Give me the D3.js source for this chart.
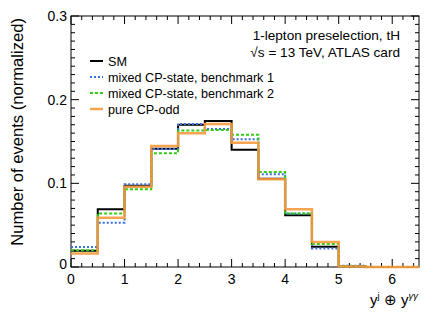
<!DOCTYPE html>
<html><head><meta charset="utf-8">
<script src="https://cdn.jsdelivr.net/npm/d3@7"></script>
<style>html,body{margin:0;padding:0;background:#fff;}svg{display:block;font-family:"Liberation Sans",Arial,sans-serif;}</style>
</head><body>
<script>
const binEdges = [0,0.5,1,1.5,2,2.5,3,3.5,4,4.5,5,5.5,6,6.5];
const smValues    = [0.0195,0.069,0.097,0.1414,0.170,0.1744,0.140,0.1055,0.062,0.0243,0.001,0,0];
const bench1Values= [0.024,0.053,0.099,0.141,0.171,0.165,0.1526,0.111,0.064,0.022,0.0015,0,0];
const bench2Values= [0.020,0.064,0.093,0.136,0.163,0.1637,0.158,0.1135,0.064,0.0275,0.001,0,0];
const cpOddValues = [0.016,0.059,0.096,0.1446,0.160,0.171,0.1485,0.105,0.069,0.030,0.0005,0,0];
const xTicks = [0,1,2,3,4,5,6];
const yTicks = [0,0.1,0.2,0.3];
const yTickLabels = ["0","0.1","0.2","0.3"];
const legendLabels = ["SM","mixed CP-state, benchmark 1","mixed CP-state, benchmark 2","pure CP-odd"];

const W=441,H=318;
const m={l:71,r:22,t:16,b:51};
const svg=d3.select("body").append("svg").attr("width",W).attr("height",H);
const x=d3.scaleLinear().domain([0,6.5]).range([m.l,W-m.r]);
const y=d3.scaleLinear().domain([0,0.3]).range([H-m.b,m.t]);

// frame
svg.append("rect").attr("x",x(0)).attr("y",y(0.3)).attr("width",x(6.5)-x(0)).attr("height",y(0)-y(0.3))
  .attr("fill","none").attr("stroke","#000").attr("stroke-width",1);

// ticks
const xMinor=d3.range(0,6.5001,0.2).filter(v=>Math.abs(v-Math.round(v))>1e-6);
const yMinor=d3.range(0,0.3001,0.01).filter(v=>Math.abs(v*10-Math.round(v*10))>1e-6);
const tg=svg.append("g").attr("stroke","#000").attr("stroke-width",1);
xTicks.forEach(v=>{tg.append("line").attr("x1",x(v)).attr("x2",x(v)).attr("y1",y(0)).attr("y2",y(0)-8);
  tg.append("line").attr("x1",x(v)).attr("x2",x(v)).attr("y1",y(0.3)).attr("y2",y(0.3)+8);});
xMinor.forEach(v=>{tg.append("line").attr("x1",x(v)).attr("x2",x(v)).attr("y1",y(0)).attr("y2",y(0)-4);
  tg.append("line").attr("x1",x(v)).attr("x2",x(v)).attr("y1",y(0.3)).attr("y2",y(0.3)+4);});
yTicks.forEach(v=>{tg.append("line").attr("x1",x(0)).attr("x2",x(0)+8).attr("y1",y(v)).attr("y2",y(v));
  tg.append("line").attr("x1",x(6.5)).attr("x2",x(6.5)-8).attr("y1",y(v)).attr("y2",y(v));});
yMinor.forEach(v=>{tg.append("line").attr("x1",x(0)).attr("x2",x(0)+4).attr("y1",y(v)).attr("y2",y(v));
  tg.append("line").attr("x1",x(6.5)).attr("x2",x(6.5)-4).attr("y1",y(v)).attr("y2",y(v));});

// tick labels
xTicks.forEach(v=>svg.append("text").attr("x",x(v)).attr("y",y(0)+17).attr("text-anchor","middle")
  .attr("font-size",14).text(v));
yTicks.forEach((v,i)=>svg.append("text").attr("x",x(0)-4).attr("y",y(v)+5-(v===0?3:0)).attr("text-anchor","end")
  .attr("font-size",14).text(yTickLabels[i]));

// axis titles
svg.append("text").attr("transform",`translate(23,${y(0.3)+2}) rotate(-90)`).attr("text-anchor","end")
  .attr("font-size",16.6).text("Number of events (normalized)");
const xt=svg.append("text").attr("x",x(6.5)-1).attr("y",H-13).attr("text-anchor","end").attr("font-size",15);
xt.append("tspan").text("y");
xt.append("tspan").attr("dy",-6).attr("font-size",9.5).text("j");
xt.append("tspan").attr("dy",6).text(" \u2295 y");
xt.append("tspan").attr("dy",-6).attr("font-size",9.5).attr("font-style","italic").text("\u03b3\u03b3");

// histograms
function stepPts(vals){const pts=[];vals.forEach((v,i)=>{pts.push([binEdges[i],v]);pts.push([binEdges[i+1],v]);});return pts;}
const line=d3.line().x(d=>x(d[0])).y(d=>y(d[1]));
const series=[
  {vals:smValues,color:"#000000",w:2,dash:null,op:1},
  {vals:bench1Values,color:"#3a6fe0",w:2,dash:"2,2",op:1},
  {vals:bench2Values,color:"#33cc11",w:2,dash:"3,2",op:1},
  {vals:cpOddValues,color:"#f79a3e",w:2.5,dash:null,op:0.9}
];
series.forEach(s=>{svg.append("path").attr("d",line(stepPts(s.vals))).attr("fill","none")
  .attr("stroke",s.color).attr("stroke-width",s.w).attr("stroke-dasharray",s.dash).attr("opacity",s.op);});

// legend
const lg=svg.append("g");
series.forEach((s,i)=>{const yy=61+i*16;
  lg.append("line").attr("x1",90).attr("x2",103).attr("y1",yy).attr("y2",yy).attr("stroke",s.color)
    .attr("stroke-width",s.w).attr("stroke-dasharray",s.dash).attr("opacity",s.op);
  lg.append("text").attr("x",108).attr("y",yy+4.5).attr("font-size",12.6).text(legendLabels[i]);});

// info text
svg.append("text").attr("x",400).attr("y",40).attr("text-anchor","end").attr("font-size",13.6).text("1-lepton preselection, tH");
const t2=svg.append("text").attr("x",400).attr("y",56.5).attr("text-anchor","end").attr("font-size",13.6);
t2.append("tspan").text("\u221As = 13 TeV, ATLAS card");
</script>
</body></html>
